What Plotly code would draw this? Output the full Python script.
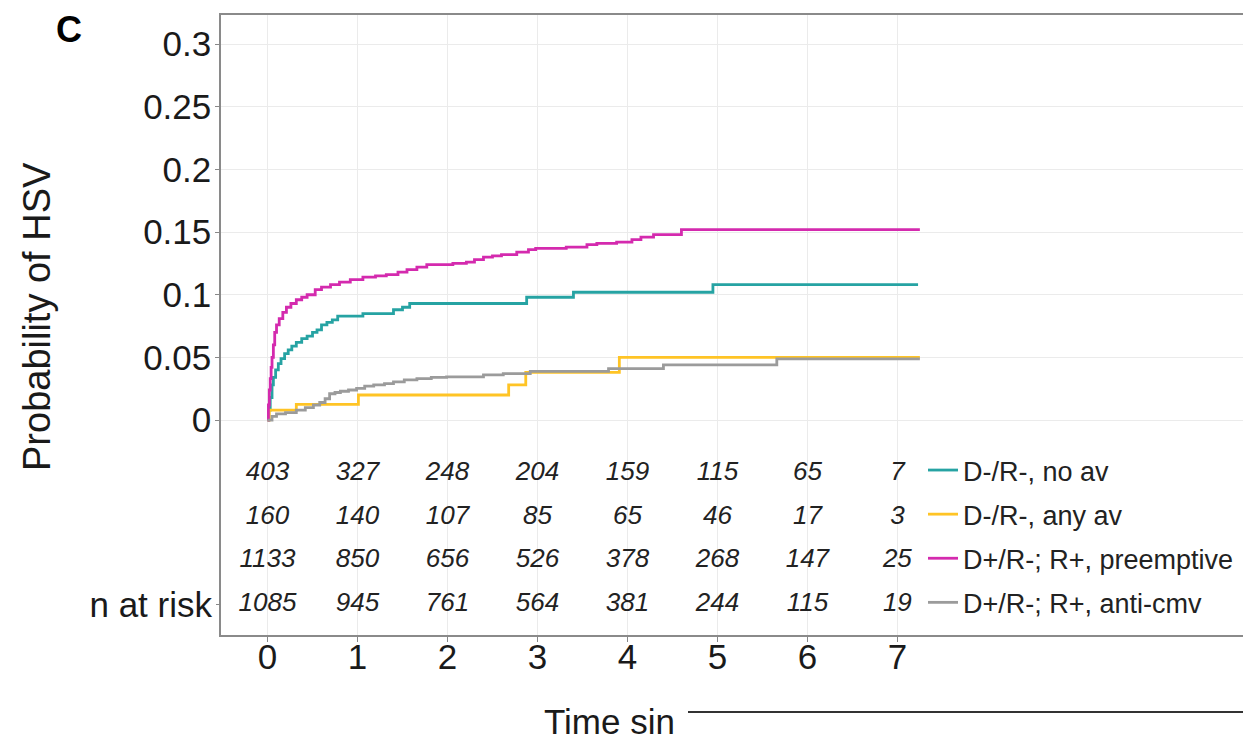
import plotly.graph_objects as go

# ---------------- data ----------------
series_names = ["D-/R-, no av", "D-/R-, any av", "D+/R-; R+, preemptive", "D+/R-; R+, anti-cmv"]

t_noav = [0, 0.01, 0.03, 0.05, 0.065, 0.09, 0.12, 0.15, 0.19, 0.23, 0.27, 0.32, 0.38, 0.44,
          0.50, 0.55, 0.60, 0.66, 0.72, 0.78, 1.06, 1.40, 1.50, 1.58, 2.88, 3.40, 4.95, 7.23]
p_noav = [0, 0.008, 0.018, 0.028, 0.034, 0.040, 0.045, 0.049, 0.053, 0.056, 0.059, 0.062, 0.065, 0.067,
          0.070, 0.072, 0.076, 0.078, 0.080, 0.083, 0.085, 0.088, 0.090, 0.093, 0.098, 0.102, 0.108, 0.108]

t_anyav = [0, 0.02, 0.32, 1.01, 2.68, 2.87, 3.91, 7.25]
p_anyav = [0, 0.008, 0.0125, 0.020, 0.028, 0.038, 0.050, 0.050]

t_pre = [0, 0.01, 0.02, 0.03, 0.04, 0.05, 0.065, 0.08, 0.10, 0.13, 0.17, 0.21, 0.26, 0.32, 0.38, 0.44,
         0.53, 0.60, 0.70, 0.80, 0.92, 1.06, 1.20, 1.32, 1.45, 1.55, 1.66, 1.77, 2.06, 2.21, 2.30, 2.40,
         2.50, 2.60, 2.77, 2.90, 2.98, 3.32, 3.55, 3.66, 3.88, 4.05, 4.15, 4.29, 4.60, 7.25]
p_pre = [0, 0.012, 0.024, 0.033, 0.042, 0.050, 0.060, 0.070, 0.076, 0.081, 0.086, 0.090, 0.093, 0.096,
         0.098, 0.100, 0.104, 0.106, 0.108, 0.110, 0.112, 0.114, 0.115, 0.116, 0.118, 0.120, 0.122, 0.124,
         0.125, 0.126, 0.128, 0.130, 0.131, 0.132, 0.134, 0.136, 0.137, 0.138, 0.140, 0.141, 0.142, 0.144,
         0.146, 0.148, 0.152, 0.152]

t_acmv = [0, 0.05, 0.10, 0.20, 0.32, 0.42, 0.51, 0.58, 0.64, 0.69, 0.75, 0.81, 0.90, 0.99, 1.08, 1.18,
          1.30, 1.40, 1.52, 1.66, 1.82, 1.99, 2.40, 2.62, 2.92, 3.79, 4.40, 5.66, 7.25]
p_acmv = [0, 0.003, 0.005, 0.006, 0.008, 0.010, 0.012, 0.014, 0.017, 0.021, 0.022, 0.023, 0.024, 0.0253,
          0.027, 0.028, 0.029, 0.0305, 0.032, 0.033, 0.034, 0.0345, 0.036, 0.037, 0.0388, 0.041, 0.044,
          0.0488, 0.0488]

risk_times = [0, 1, 2, 3, 4, 5, 6, 7]
risk_noav = [403, 327, 248, 204, 159, 115, 65, 7]
risk_anyav = [160, 140, 107, 85, 65, 46, 17, 3]
risk_pre = [1133, 850, 656, 526, 378, 268, 147, 25]
risk_acmv = [1085, 945, 761, 564, 381, 244, 115, 19]

y_ticks = [0, 0.05, 0.1, 0.15, 0.2, 0.25, 0.3]
y_ticktext = ["0", "0.05", "0.1", "0.15", "0.2", "0.25", "0.3"]
x_ticks = [0, 1, 2, 3, 4, 5, 6, 7]

# ---------------- styling ----------------
FONT = "Liberation Sans, Arial, sans-serif"
colors = ["#26a3a3", "#ffc425", "#d42aae", "#9b9b9b"]
row_y = [-0.0423, -0.0774, -0.1124, -0.1475]

# page body has an 8px margin, so the figure is laid out 8px smaller
W, H = 1243, 737
L, T, B = 213, 7, 110
PW, PH = W - L, H - T - B


def px(x):  # figure-pixel -> paper x
    return (x - L) / PW


def py(y):  # figure-pixel -> paper y
    return (H - B - y) / PH


fig = go.Figure()

curves = [(t_noav, p_noav), (t_anyav, p_anyav), (t_pre, p_pre), (t_acmv, p_acmv)]
for i, (tt, pp) in enumerate(curves):
    fig.add_trace(go.Scatter(
        x=tt, y=pp, mode="lines", line=dict(color=colors[i], width=2.8, shape="hv"),
        name=series_names[i], legendgroup=f"g{i}", hoverinfo="skip"))

risks = [risk_noav, risk_anyav, risk_pre, risk_acmv]
for i, r in enumerate(risks):
    fig.add_trace(go.Scatter(
        x=risk_times, y=[row_y[i]] * len(risk_times), mode="text",
        text=[f"<i>{v}</i>" for v in r],
        textfont=dict(family=FONT, size=26, color="#222"),
        showlegend=False, hoverinfo="skip"))

# invisible trace to carry the "n at risk" axis
fig.add_trace(go.Scatter(x=[None], y=[None], yaxis="y2", showlegend=False, hoverinfo="skip"))

yr = [-0.1715, 0.3232]
fig.update_layout(
    width=W, height=H,
    margin=dict(l=L, r=0, t=T, b=B, autoexpand=False),
    paper_bgcolor="white", plot_bgcolor="white",
    font=dict(family=FONT, color="#1a1a1a"),
    showlegend=True,
    legend=dict(x=px(915), y=py(438), xanchor="left", yanchor="top",
                font=dict(family=FONT, size=27, color="#222"),
                bgcolor="rgba(0,0,0,0)", tracegroupgap=6, itemwidth=30),
    xaxis=dict(range=[-0.517, 10.93], tickvals=x_ticks, ticks="outside", ticklen=5,
               tickcolor="#888", tickfont=dict(size=35, color="#1a1a1a"),
               ticklabelstandoff=-15,
               showgrid=True, gridcolor="#ebebeb", gridwidth=1,
               showline=True, linecolor="#8a8a8a", linewidth=1.5, mirror=True,
               zeroline=False, automargin=False),
    yaxis=dict(range=yr, tickvals=y_ticks, ticktext=y_ticktext, ticks="outside", ticklen=4,
               tickcolor="#888", tickfont=dict(size=35, color="#1a1a1a"),
               ticklabelstandoff=-3,
               showgrid=True, gridcolor="#ebebeb", gridwidth=1,
               showline=True, linecolor="#8a8a8a", linewidth=1.5, zeroline=False,
               automargin=False),
    yaxis2=dict(range=yr, overlaying="y", side="left", anchor="x",
                tickvals=[row_y[3]], ticktext=["n at risk"], ticks="outside", ticklen=4,
                tickcolor="#888", tickfont=dict(size=35, color="#1a1a1a"),
                ticklabelstandoff=-3,
                showgrid=False, showline=False, zeroline=False, automargin=False),
)

fig.add_annotation(text="Probability of HSV", textangle=-90, xref="paper", yref="paper",
                   x=px(29), y=py(309), showarrow=False,
                   font=dict(family=FONT, size=38, color="#1a1a1a"), xanchor="center", yanchor="middle")
fig.add_annotation(text="<b>C</b>", xref="paper", yref="paper",
                   x=px(61), y=py(21), showarrow=False,
                   font=dict(family=FONT, size=36, color="black"), xanchor="center", yanchor="middle")
fig.add_annotation(text="Time sin", xref="paper", yref="paper",
                   x=px(534), y=py(713), showarrow=False,
                   font=dict(family=FONT, size=35, color="#1a1a1a"), xanchor="left", yanchor="middle")
fig.add_shape(type="line", xref="paper", yref="paper",
              x0=px(680), x1=1.0, y0=py(704), y1=py(704),
              line=dict(color="#333", width=2))

fig.write_html("out.html")
